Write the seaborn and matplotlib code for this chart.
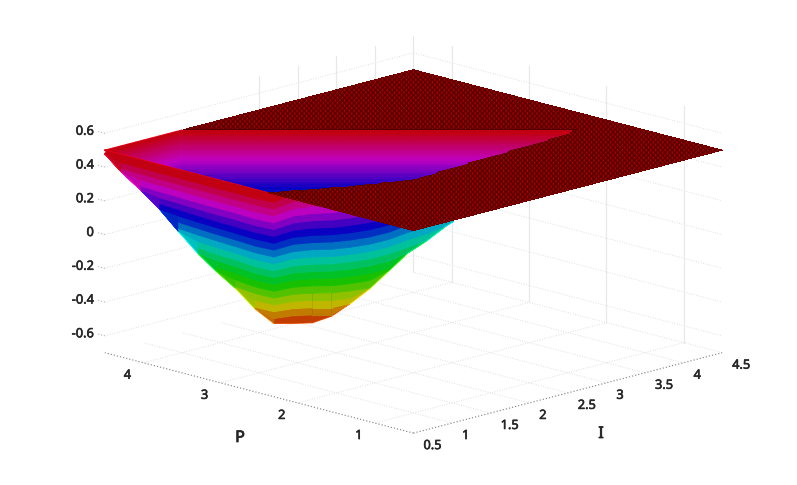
import numpy as np
import matplotlib
matplotlib.use('Agg')
import matplotlib.pyplot as plt
import matplotlib.patheffects as pe
import seaborn as sns
from mpl_toolkits.mplot3d import proj3d

sns.set_theme(style='white')
plt.rcParams['font.family'] = ['Noto Sans', 'DejaVu Sans']
plt.rcParams['hatch.linewidth'] = 0.18

# axis ticks
i_ticks = [0.5, 1, 1.5, 2, 2.5, 3, 3.5, 4, 4.5]
i_labels = ['0.5', '1', '1.5', '2', '2.5', '3', '3.5', '4', '4.5']
p_ticks = [1, 2, 3, 4]
z_ticks = [-0.6, -0.4, -0.2, 0, 0.2, 0.4, 0.6]
z_labels = ['-0.6', '-0.4', '-0.2', '0', '0.2', '0.4', '0.6']

plateau_z = 0.5

# near edge of the flat part
lip_i = [0.5, 1.18, 1.78, 2.26, 3.19, 3.88, 4.04, 4.5]
lip_p = [2.39, 2.02, 1.76, 1.81, 1.86, 1.9, 1.96, 2.0]

# far wall of the trench
wall_i = [0.5, 0.6, 0.7, 0.8, 0.9, 1.0, 1.1, 1.2, 1.3, 1.4, 1.5, 1.6, 1.7, 1.8, 1.9, 2.0, 2.1, 2.2, 2.3,
          2.4, 2.5, 2.6, 2.7, 2.8, 2.9, 3.0, 3.1, 3.2, 3.3, 3.4, 3.5, 3.6, 3.7, 3.8, 3.9, 4.0, 4.1]
wall_p = [4.5, 4.5, 4.5, 4.5, 4.5, 4.5, 4.5, 4.5, 4.5, 4.5, 4.5, 4.4, 4.3, 4.2, 4.1, 4.0, 3.9, 3.8, 3.7,
          3.6, 3.5, 3.4, 3.3, 3.2, 3.1, 3.0, 2.9, 2.8, 2.7, 2.6, 2.5, 2.4, 2.3, 2.2, 2.1, 2.0, 1.9]
wall_floor = [0.5, 0.47, 0.45, 0.42, 0.39, 0.37, 0.34, 0.31, 0.29, 0.27, 0.25, 0.22, 0.2, 0.17, 0.15, 0.12,
              0.1, 0.1, 0.1, 0.1, 0.1, 0.1, 0.1, 0.1, 0.1, 0.1, 0.1, 0.1, 0.1, 0.12, 0.13, 0.14, 0.15, 0.16,
              0.18, 0.2, 0.22]
wall_z = [0.5, 0.485, 0.47, 0.455, 0.44, 0.425, 0.41, 0.395, 0.38, 0.365, 0.35, 0.335, 0.32, 0.305, 0.29,
          0.275, 0.26, 0.245, 0.23, 0.215, 0.2, 0.185, 0.17, 0.155, 0.14, 0.125, 0.11, 0.1]

# near slope of the trench: one row per station across the view (I - P),
# one column per height in sheet_z, holding I + P - 1
sheet_d = [-4.03, -3.78, -3.53, -3.29, -3.04, -2.79, -2.55, -2.30, -2.05, -1.81,
           -1.56, -1.31, -1.06, -0.82, -0.57, -0.32, -0.08, 0.17, 0.42, 0.52]
sheet_z = [0.5, 0.445, 0.39, 0.335, 0.28, 0.225, 0.17, 0.115, 0.06, 0.005,
           -0.05, -0.105, -0.16, -0.215, -0.27, -0.325, -0.38, -0.435, -0.49, -0.55]
sheet_floor = [0.48, 0.357, 0.24, 0.125, -0.02, -0.15, -0.25, -0.34, -0.45, -0.53,
               -0.55, -0.55, -0.5, -0.42, -0.33, -0.23, -0.15, -0.10, -0.04, -0.02]
# highest point of each station, the part above it sits behind the flat lip
sheet_ceil = [0.5, 0.5, 0.5, 0.5, 0.5, 0.5, 0.5, 0.5, 0.5, 0.5,
              0.445, 0.39, 0.39, 0.39, 0.39, 0.39, 0.335, 0.335, 0.335, 0.335]
sheet_s = [
    [3.90, 3.97, 3.97, 3.97, 3.97, 3.97, 3.97, 3.97, 3.97, 3.97, 3.97, 3.97, 3.97, 3.97, 3.97, 3.97, 3.97, 3.97, 3.97, 3.97],
    [3.66, 3.83, 4.01, 4.11, 4.11, 4.11, 4.11, 4.11, 4.11, 4.11, 4.11, 4.11, 4.11, 4.11, 4.11, 4.11, 4.11, 4.11, 4.11, 4.11],
    [3.41, 3.58, 3.74, 3.91, 4.07, 4.20, 4.20, 4.20, 4.20, 4.20, 4.20, 4.20, 4.20, 4.20, 4.20, 4.20, 4.20, 4.20, 4.20, 4.20],
    [3.17, 3.33, 3.48, 3.64, 3.79, 3.95, 4.11, 4.23, 4.23, 4.23, 4.23, 4.23, 4.23, 4.23, 4.23, 4.23, 4.23, 4.23, 4.23, 4.23],
    [2.93, 3.08, 3.22, 3.37, 3.52, 3.67, 3.82, 3.96, 4.11, 4.26, 4.32, 4.32, 4.32, 4.32, 4.32, 4.32, 4.32, 4.32, 4.32, 4.32],
    [2.68, 2.82, 2.96, 3.10, 3.24, 3.38, 3.52, 3.66, 3.80, 3.94, 4.08, 4.22, 4.33, 4.33, 4.33, 4.33, 4.33, 4.33, 4.33, 4.33],
    [2.44, 2.57, 2.71, 2.84, 2.98, 3.11, 3.24, 3.38, 3.51, 3.65, 3.78, 3.91, 4.05, 4.18, 4.27, 4.27, 4.27, 4.27, 4.27, 4.27],
    [2.20, 2.33, 2.46, 2.59, 2.72, 2.85, 2.97, 3.10, 3.23, 3.36, 3.49, 3.62, 3.75, 3.88, 4.01, 4.14, 4.17, 4.17, 4.17, 4.17],
    [1.95, 2.07, 2.20, 2.32, 2.44, 2.57, 2.69, 2.81, 2.93, 3.06, 3.18, 3.30, 3.43, 3.55, 3.67, 3.80, 3.92, 4.04, 4.08, 4.08],
    [1.76, 1.88, 2.00, 2.12, 2.24, 2.37, 2.49, 2.61, 2.73, 2.85, 2.97, 3.09, 3.21, 3.33, 3.45, 3.58, 3.70, 3.82, 3.94, 4.03],
    [2.26, 2.26, 2.36, 2.47, 2.58, 2.69, 2.79, 2.90, 3.01, 3.11, 3.22, 3.33, 3.43, 3.54, 3.65, 3.76, 3.86, 3.97, 4.08, 4.20],
    [2.49, 2.49, 2.49, 2.60, 2.70, 2.80, 2.90, 3.00, 3.10, 3.21, 3.31, 3.41, 3.51, 3.61, 3.72, 3.82, 3.92, 4.02, 4.12, 4.23],
    [2.54, 2.54, 2.54, 2.64, 2.74, 2.84, 2.93, 3.03, 3.13, 3.23, 3.33, 3.43, 3.53, 3.63, 3.73, 3.83, 3.92, 4.02, 4.12, 4.14],
    [2.64, 2.64, 2.64, 2.74, 2.84, 2.94, 3.03, 3.13, 3.23, 3.33, 3.43, 3.53, 3.63, 3.73, 3.83, 3.93, 4.02, 4.10, 4.10, 4.10],
    [2.79, 2.79, 2.79, 2.89, 2.99, 3.09, 3.18, 3.28, 3.38, 3.48, 3.58, 3.68, 3.78, 3.88, 3.98, 4.08, 4.08, 4.08, 4.08, 4.08],
    [3.03, 3.03, 3.03, 3.13, 3.23, 3.33, 3.42, 3.52, 3.62, 3.72, 3.82, 3.92, 4.02, 4.12, 4.14, 4.14, 4.14, 4.14, 4.14, 4.14],
    [3.47, 3.47, 3.47, 3.47, 3.57, 3.67, 3.76, 3.86, 3.96, 4.06, 4.16, 4.26, 4.34, 4.34, 4.34, 4.34, 4.34, 4.34, 4.34, 4.34],
    [3.76, 3.76, 3.76, 3.76, 3.86, 3.96, 4.05, 4.15, 4.25, 4.35, 4.45, 4.54, 4.54, 4.54, 4.54, 4.54, 4.54, 4.54, 4.54, 4.54],
    [4.10, 4.10, 4.10, 4.10, 4.20, 4.30, 4.39, 4.49, 4.59, 4.69, 4.77, 4.77, 4.77, 4.77, 4.77, 4.77, 4.77, 4.77, 4.77, 4.77],
    [4.20, 4.20, 4.20, 4.20, 4.30, 4.40, 4.49, 4.59, 4.69, 4.79, 4.84, 4.84, 4.84, 4.84, 4.84, 4.84, 4.84, 4.84, 4.84, 4.84],
]

zlo, zhi = -0.7, 0.7
lo, hi = 0.5, 4.5
w_px, h_px = 797, 485
dpi = 96  # hatch tile is one dpi wide, 96 gives an even 2 px pitch

fig = plt.figure(figsize=(w_px / dpi, h_px / dpi), dpi=dpi)
# a big square axes so nothing gets clipped, it runs off the figure top and bottom
ax = fig.add_axes([54 / w_px, -109 / h_px, 700 / w_px, 700 / h_px], projection='3d', computed_zorder=False)
ax.set_proj_type('ortho')
ax.view_init(elev=15.1, azim=-135)
ax.set_box_aspect((437, 437, 245), zoom=0.921)
ax.set_xlim(lo, hi)
ax.set_ylim(lo, hi)
ax.set_zlim(zlo, zhi)
ax.set_axis_off()

floor_style = dict(color='#dedede', ls=':', lw=0.7, zorder=0)
wall_style = dict(color='#e8e8e8', ls='-', lw=0.9, zorder=0)
edge_style = dict(color='#8c8c8c', ls=':', lw=0.9, zorder=0)

# floor and wall grid
for v in i_ticks[1:]:
    ax.plot([v, v], [lo, hi], [zlo, zlo], **floor_style)
for v in p_ticks:
    ax.plot([lo, hi], [v, v], [zlo, zlo], **floor_style)
for v in z_ticks:
    ax.plot([lo, hi, hi], [hi, hi, lo], [v, v, v], **floor_style)
    ax.plot([lo, lo], [hi, hi + 0.09], [v, v], color='#b0b0b0', ls=':', lw=0.8, zorder=0)
for v in i_ticks[4:]:
    ax.plot([v, v], [hi, hi], [zlo, zhi], **wall_style)
for v in p_ticks:
    ax.plot([hi, hi], [v, v], [zlo, zhi], **wall_style)
ax.plot([lo, hi], [lo, lo], [zlo, zlo], **edge_style)
ax.plot([lo, lo], [lo, hi], [zlo, zlo], **edge_style)

cmap = plt.cm.hsv
norm = plt.Normalize(-0.55, 0.5)


def coloured(x, y, z, order):
    # plain faces with their own colour on the edges to close the seams, then only the black pepper on top
    ax.plot_surface(x, y, z, rstride=1, cstride=1, facecolors=cmap(norm(z)), shade=False,
                    linewidth=0.8, antialiased=True, zorder=order)
    top = ax.plot_surface(x, y, z, rstride=1, cstride=1, color='black', shade=False,
                          linewidth=0, antialiased=False, hatch='+' * 8, zorder=order + 0.1)
    top.set_facecolor((0, 0, 0, 0))
    top.set_edgecolor('black')


# flat part, fine mesh over a solid base so nothing shows through the seams
grid = np.linspace(0.5, 4.5, 131)
X, Y = np.meshgrid(grid, grid)
Z_back = np.where(X + Y >= 6, plateau_z, np.nan)
Z_near = np.where(Y <= np.interp(X, lip_i, lip_p), plateau_z, np.nan)
base_style = dict(rstride=1, cstride=1, color='#8a0000', linewidth=0, antialiased=False, shade=False)
flat_style = dict(rstride=1, cstride=1, color='#ff0000', edgecolor='black', linewidth=0.22, shade=False)
ax.plot_surface(X, Y, Z_back, zorder=1, **base_style)
ax.plot_surface(X, Y, Z_back, zorder=1.1, **flat_style)

# far wall
wx = np.tile(np.array(wall_i), (len(wall_z), 1))
wy = np.tile(np.array(wall_p), (len(wall_z), 1))
wz = np.maximum(np.array(wall_z)[:, None], np.array(wall_floor)[None, :])
coloured(wx, wy, wz, 2)

# near slope
d = np.array(sheet_d)[:, None]
s = np.array(sheet_s)
sx = np.clip(0.5 + (s + d) / 2, lo, hi)
sy = np.clip(0.5 + (s - d) / 2, lo, hi)
sz = np.maximum(np.array(sheet_z)[None, :], np.array(sheet_floor)[:, None])
sz = np.minimum(sz, np.array(sheet_ceil)[:, None])
coloured(sx, sy, sz, 3)

ax.plot_surface(X, Y, Z_near, zorder=4, **base_style)
ax.plot_surface(X, Y, Z_near, zorder=4.1, **flat_style)

# tick labels are placed from the projected tick position
M = ax.get_proj()
heavy = [pe.withStroke(linewidth=0.45, foreground='#262626')]
text_style = dict(textcoords='offset pixels', color='#262626', fontsize=9.6, annotation_clip=False,
                  zorder=10, va='center', path_effects=heavy)


def tick_text(label, x, y, z, dx, dy, ha):
    x2, y2, _ = proj3d.proj_transform(x, y, z, M)
    ax.annotate(label, xy=(x2, y2), xytext=(dx, dy), ha=ha, **text_style)


for v, lab in zip(i_ticks, i_labels):
    tick_text(lab, v, lo, zlo, 10, -12.5, 'left')
for v in p_ticks:
    tick_text(str(v), lo, v, zlo, -16, -12.5, 'center')
for v, lab in zip(z_ticks, z_labels):
    tick_text(lab, lo, hi, v, -11, 2, 'right')

title_style = dict(ha='center', va='center', fontsize=12, color='#262626',
                   path_effects=[pe.withStroke(linewidth=0.6, foreground='#262626')])
fig.text(240 / w_px, 1 - 438 / h_px, 'P', **title_style)
fig.text(601 / w_px, 1 - 434 / h_px, 'I', **title_style)

fig.savefig('out.png', dpi=dpi)
